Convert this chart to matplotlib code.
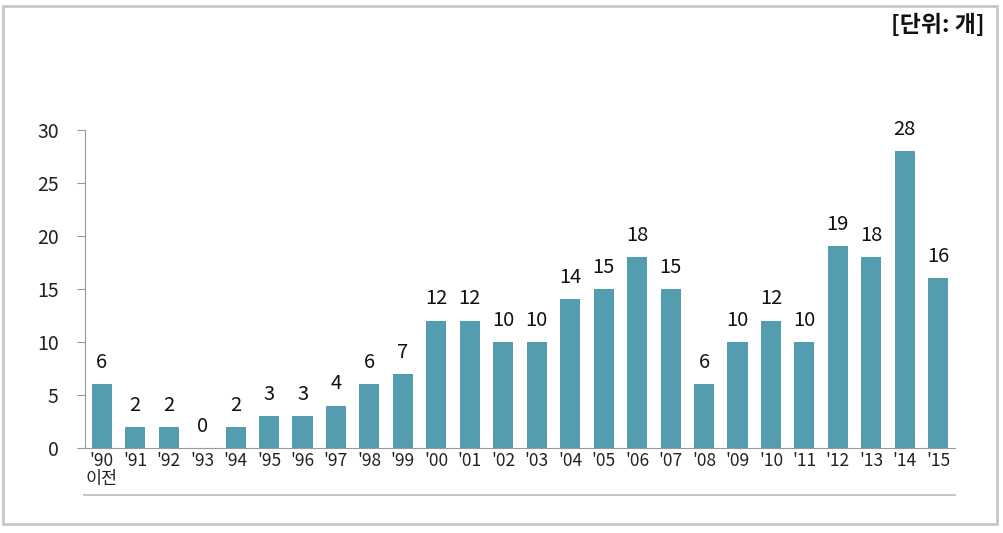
import matplotlib.pyplot as plt
from matplotlib.patches import Rectangle
from matplotlib.lines import Line2D

plt.rcParams['font.family'] = ['Noto Sans CJK KR', 'DejaVu Sans']

years = ["'90\n이전", "'91", "'92", "'93", "'94", "'95", "'96", "'97", "'98", "'99",
         "'00", "'01", "'02", "'03", "'04", "'05", "'06", "'07", "'08", "'09",
         "'10", "'11", "'12", "'13", "'14", "'15"]
counts = [6, 2, 2, 0, 2, 3, 3, 4, 6, 7, 12, 12, 10, 10, 14, 15, 18, 15, 6, 10,
          12, 10, 19, 18, 28, 16]
yticks = [0, 5, 10, 15, 20, 25, 30]

fig = plt.figure(figsize=(10.04, 5.33), dpi=100)
ax = fig.add_axes([85 / 1004, 1 - 448 / 533, 870 / 1004, (448 - 129.5) / 533])

x = list(range(len(counts)))
ax.bar(x, counts, width=0.6, color='#549cb0')
for xi, v in zip(x, counts):
    ax.annotate(str(v), (xi, v), xytext=(0, 8), textcoords='offset points',
                ha='center', va='bottom', fontsize=14.5, color='#111111')

ax.set_xlim(-0.5, len(counts) - 0.5)
ax.set_ylim(0, 30)
ax.set_yticks(yticks)
ax.set_yticklabels([str(t) for t in yticks], fontsize=14, color='#222222')
ax.set_xticks(x)
ax.set_xticklabels(years, fontsize=12.5, color='#222222', linespacing=1.0)
ax.tick_params(axis='x', length=0, pad=3)
ax.tick_params(axis='y', length=6, color='#999999', pad=13)
for s in ['top', 'right']:
    ax.spines[s].set_visible(False)
ax.spines['left'].set_color('#999999')
ax.spines['bottom'].set_color('#999999')

# bottom rule and outer frame
fig.add_artist(Line2D([84 / 1004, 955 / 1004], [1 - 495 / 533] * 2,
                      color='#bbbbbb', lw=1.2, transform=fig.transFigure))
fig.add_artist(Rectangle((3 / 1004, 1 - 524 / 533), 994 / 1004, 518 / 533,
                         fill=False, edgecolor='#c8c8c8', lw=2, transform=fig.transFigure))
fig.text(985 / 1004, 1 - 25 / 533, '[단위: 개]', ha='right', va='center',
         fontsize=16.5, fontweight='bold', color='#111111')

fig.savefig('out.png', dpi=100)
